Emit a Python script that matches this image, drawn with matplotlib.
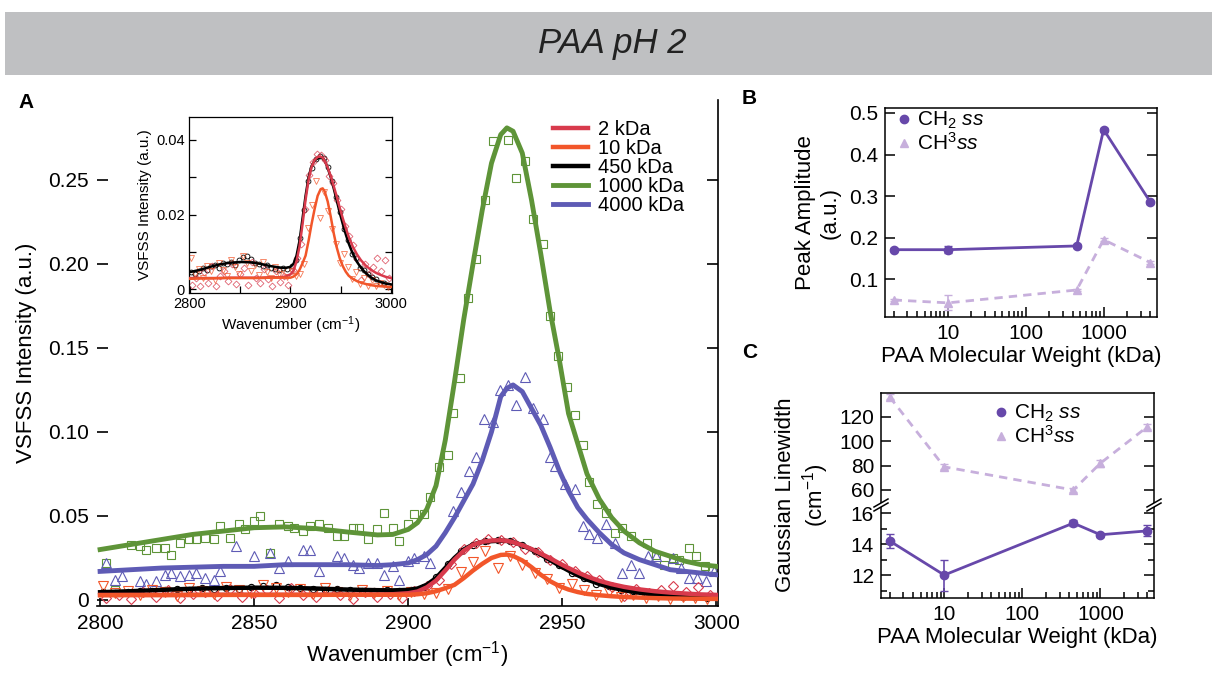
"""PAA pH 2: SFG spectra (A) with inset, peak amplitude (B) and Gaussian linewidth (C) vs molecular weight."""
import matplotlib; matplotlib.use("Agg"); import matplotlib.pyplot as plt
from matplotlib.lines import Line2D
from matplotlib.patches import Rectangle, Polygon
from matplotlib.ticker import FuncFormatter, MultipleLocator

plt.rcParams['font.family'] = ['Liberation Sans', 'DejaVu Sans']
plt.rcParams['mathtext.fontset'] = 'custom'
plt.rcParams['mathtext.rm'] = 'Liberation Sans'
plt.rcParams['mathtext.it'] = 'Liberation Sans:italic'

# ---- panel A: fit curves ----
fit_x = [2800, 2810, 2820, 2830, 2840, 2850, 2860, 2870, 2880, 2890, 2895, 2900, 2903, 2906, 2909, 2912, 2915,
         2918, 2921, 2924, 2927, 2930, 2932, 2934, 2937, 2940, 2943, 2946, 2949, 2952, 2955, 2958, 2962, 2966,
         2970, 2975, 2980, 2985, 2990, 2995, 3000]
fit_1000 = [.030, .033, .036, .039, .041, .043, .0435, .0425, .0405, .0387, .039, .042, .046, .054, .068, .095, .130,
            .167, .200, .232, .260, .277, .281, .279, .266, .238, .206, .172, .143, .111, .093, .075, .060, .049,
            .041, .034, .029, .026, .023, .021, .020]
fit_4000 = [.017, .018, .019, .0195, .020, .020, .021, .021, .021, .0205, .021, .022, .024, .027, .032, .040, .049,
            .059, .069, .083, .100, .121, .126, .128, .124, .114, .104, .091, .077, .065, .055, .048, .040, .033,
            .028, .024, .021, .018, .017, .016, .015]
fit_450 = [.0046, .0052, .0060, .0067, .0071, .0073, .0072, .0068, .0062, .0058, .0057, .0060, .0068, .0090, .0130,
           .0190, .0250, .0300, .0330, .0345, .0350, .0353, .0351, .0345, .0325, .0300, .0270, .0238, .0205, .0175,
           .0147, .0122, .0095, .0074, .0058, .0043, .0032, .0024, .0019, .0015, .0013]
fit_2 = [.0030, .0030, .0030, .0030, .0031, .0031, .0031, .0031, .0032, .0032, .0034, .0040, .0050, .0075, .0115,
         .0175, .0240, .0293, .0328, .0346, .0354, .0355, .0352, .0344, .0326, .0303, .0276, .0248, .0218, .0190,
         .0164, .0140, .0114, .0094, .0078, .0063, .0052, .0044, .0038, .0033, .0030]
fit_10 = [.0028, .0029, .0029, .0030, .0030, .0030, .0030, .0030, .0031, .0031, .0031, .0031, .0034, .0040, .0052,
          .0070, .0090, .0130, .0175, .0215, .0250, .0268, .0270, .0262, .0235, .0195, .0150, .0112, .0083, .0062,
          .0047, .0036, .0028, .0022, .0018, .0014, .0011, .0009, .0008, .0007, .0006]

# ---- panel A: measured points ----
x_1000 = [2802, 2805, 2810, 2813, 2815, 2818, 2821, 2823, 2826, 2829, 2831, 2834, 2837, 2839, 2842, 2845, 2847, 2850,
          2852, 2855, 2858, 2861, 2863, 2866, 2868, 2871, 2874, 2877, 2879, 2882, 2884, 2887, 2890, 2892, 2895, 2897,
          2900, 2902, 2905, 2907, 2910, 2913, 2914.5, 2916.7, 2919.3, 2922, 2924.8, 2927.4, 2932.3, 2935, 2938,
          2940.4, 2943.6, 2945.9, 2948.5, 2951.4, 2954, 2956.6, 2958.5, 2961.4, 2964.3, 2967, 2969.5, 2972.3,
          2977.3, 2980.5, 2983, 2985.8, 2988, 2991, 2993.5, 2996.4, 2998.7]
y_1000 = [.022, .006, .033, .032, .030, .031, .031, .027, .034, .036, .036, .037, .036, .044, .037, .045, .042, .047,
          .050, .028, .045, .044, .043, .041, .044, .045, .043, .038, .038, .043, .043, .036, .042, .052, .043, .035,
          .045, .051, .051, .061, .079, .086, .111, .132, .180, .203, .238, .273, .274, .251, .261,
          .227, .212, .169, .145, .127, .110, .092, .070, .057, .052, .040, .043, .038,
          .034, .027, .021, .025, .024, .031, .026, .020, .019]
x_4000 = [2802, 2805, 2807, 2813, 2815, 2818, 2821, 2823, 2826, 2829, 2831, 2834, 2837, 2839, 2844, 2850, 2855, 2858,
          2861, 2866, 2868, 2871, 2877, 2879, 2882, 2884, 2887, 2890, 2892, 2895, 2897, 2900, 2902, 2905, 2907,
          2914.5, 2917, 2919.7, 2922, 2924.5, 2927.4, 2929.7, 2932.3, 2935, 2938, 2940.4, 2943.6, 2945.9, 2947.5,
          2950.7, 2954, 2956.6, 2958.8, 2961.4, 2964.3, 2967, 2969.5, 2972.3, 2974.9, 2977.7, 2980.5, 2985.8,
          2988.4, 2991, 2993.8, 2996.5, 2999.3]
y_4000 = [.022, .012, .014, .011, .0095, .011, .015, .016, .014, .015, .016, .013, .012, .017, .032, .026, .028, .019,
          .023, .030, .030, .017, .026, .025, .021, .019, .022, .022, .015, .020, .012, .023, .025, .026, .022,
          .053, .064, .077, .085, .108, .106, .125, .128, .116, .133, .114, .108, .085, .080,
          .069, .066, .044, .039, .037, .045, .034, .016, .021, .016, .026, .026, .025,
          .019, .013, .013, .011, .017]
x_450 = [2801, 2805, 2809, 2813, 2817, 2821, 2825, 2829, 2833, 2837, 2841, 2845, 2849, 2853, 2857, 2861, 2865, 2869,
         2873, 2877, 2881, 2885, 2889, 2893, 2897, 2901, 2905, 2909, 2913, 2917, 2921, 2925, 2929, 2933, 2937, 2941,
         2945, 2949, 2953, 2957, 2961, 2965, 2969, 2973, 2977, 2981, 2985, 2989, 2993, 2997]
y_450 = [.0045, .0040, .0050, .0056, .0052, .0061, .0066, .0058, .0070, .0068, .0074, .0066, .0078, .0086, .0090,
         .0080, .0071, .0067, .0062, .0066, .0058, .0055, .0052, .0058, .0054, .0061, .0078, .0138, .0212, .0290,
         .0325, .0348, .0356, .0352, .0328, .0291, .0246, .0208, .0160, .0132, .0094, .0085, .0058, .0052, .0040,
         .0034, .0028, .0016, .0017, .0012]
x_2 = [2802, 2806, 2810, 2814, 2818, 2822, 2826, 2830, 2834, 2838, 2842, 2846, 2850, 2854, 2858, 2862, 2866, 2870,
       2874, 2878, 2882, 2886, 2890, 2894, 2898, 2902, 2906, 2910, 2914, 2918, 2922, 2926, 2930, 2934, 2938, 2942,
       2946, 2950, 2954, 2958, 2962, 2966, 2970, 2974, 2978, 2982, 2986, 2990, 2994, 2998]
y_2 = [.0012, .0030, .0008, .0045, .0016, .0062, .0010, .0035, .0050, .0022, .0068, .0015, .0040, .0058, .0012,
       .0072, .0030, .0018, .0055, .0028, .0008, .0048, .0020, .0036, .0012, .0052, .0085, .0120, .0215, .0305,
       .0340, .0362, .0358, .0345, .0302, .0285, .0240, .0215, .0170, .0142, .0118, .0080, .0025, .0068, .0040,
       .0060, .0083, .0050, .0077, .0030]
x_10 = [2801, 2805, 2809, 2813, 2817, 2821, 2825, 2829, 2833, 2837, 2841, 2845, 2849, 2853, 2857, 2861, 2865, 2869,
        2873, 2877, 2881, 2885, 2889, 2893, 2897, 2901, 2905, 2909, 2913, 2917, 2921, 2925, 2929, 2933, 2937, 2941,
        2945, 2949, 2953, 2957, 2961, 2965, 2969, 2973, 2977, 2981, 2985, 2989, 2993, 2997]
y_10 = [.0085, .0040, .0055, .0030, .0062, .0048, .0025, .0070, .0052, .0035, .0078, .0060, .0042, .0088, .0070,
        .0050, .0065, .0038, .0072, .0045, .0030, .0060, .0040, .0052, .0032, .0048, .0035, .0040, .0068, .0165,
        .0225, .0290, .0190, .0260, .0210, .0160, .0122, .0070, .0095, .0060, .0028, .0045, .0015, .0030, .0010,
        .0024, .0008, .0018, .0012, .0006]

# ---- panels B and C ----
mw = [2, 10, 450, 1000, 4000]
amp_ch2 = [0.171, 0.171, 0.180, 0.460, 0.285]
amp_ch2_err = [0.004, 0.008, 0.004, 0.005, 0.004]
amp_ch3 = [0.050, 0.043, 0.074, 0.195, 0.140]
amp_ch3_err = [0.003, 0.018, 0.003, 0.004, 0.003]
lw_ch2 = [14.2, 12.0, 15.35, 14.6, 14.85]
lw_ch2_err = [0.45, 1.0, 0.2, 0.12, 0.35]
lw_ch3 = [136.5, 79, 60, 82, 112]
lw_ch3_err = [2, 2, 2, 3, 2]

C2, C10, C450, C1000, C4000 = '#D83A4C', '#F2562A', 'black', '#5E9438', '#5E5BB5'
P_DARK, P_LIGHT = '#6748AA', '#C7AFDC'
W, H = 1212, 681
def fr(x0, y0, x1, y1): return [x0/W, 1-y1/H, (x1-x0)/W, (y1-y0)/H]

fig = plt.figure(figsize=(W/100, H/100), dpi=100)
fig.patches.append(Rectangle((5/W, 1-75/H), 1, 63/H, transform=fig.transFigure, fc='#BFC0C2', ec='none', zorder=0))
fig.text(612/W, 1-44/H, 'PAA pH 2', style='italic', fontsize=25, ha='center', va='center', color='#222222',
         family=['Liberation Sans Narrow', 'Liberation Sans'])
for lab, x, y in [('A', 18, 102), ('B', 742, 98), ('C', 742, 352)]:
    fig.text(x/W, 1-y/H, lab, fontsize=15, fontweight='bold', va='center')

# ---- A ----
ax = fig.add_axes(fr(97, 100, 718, 606))
mk = dict(ls='none', mfc='none', mew=0.8, zorder=2)
ax.plot(x_1000, y_1000, 's', mec=C1000, ms=6, **mk)
ax.plot(x_4000, y_4000, '^', mec=C4000, ms=6.5, **mk)
ax.plot(x_450, y_450, 'o', mec=C450, ms=4.5, **mk)
ax.plot(x_2, y_2, 'D', mec=C2, ms=5, **mk)
ax.plot(x_10, y_10, 'v', mec=C10, ms=6.5, **mk)
l450, = ax.plot(fit_x, fit_450, color=C450, lw=3.2, zorder=3)
l2, = ax.plot(fit_x, fit_2, color=C2, lw=3.2, zorder=3)
l10, = ax.plot(fit_x, fit_10, color=C10, lw=3.2, zorder=3)
l4000, = ax.plot(fit_x, fit_4000, color=C4000, lw=3.5, zorder=3)
l1000, = ax.plot(fit_x, fit_1000, color=C1000, lw=3.5, zorder=3)
ax.set_xlim(2799, 3000.5); ax.set_ylim(-0.0036, 0.2976)
ax.set_xticks([2800, 2850, 2900, 2950, 3000])
ax.set_yticks([0, 0.05, 0.10, 0.15, 0.20, 0.25]); ax.set_yticklabels(['0', '0.05', '0.10', '0.15', '0.20', '0.25'])
ax.spines['top'].set_visible(False); ax.spines['left'].set_visible(False)
for s in ['right', 'bottom']: ax.spines[s].set_linewidth(1.2)
ax.tick_params(axis='y', direction='in', left=True, right=True, length=8, width=1.2, labelsize=15, pad=6)
ax.tick_params(axis='x', direction='in', length=6, width=1.2, labelsize=15, pad=6)
ax.set_xlabel('Wavenumber (cm$^{-1}$)', fontsize=16, labelpad=4)
ax.set_ylabel('VSFSS Intensity (a.u.)', fontsize=16, labelpad=8)
ax.legend([l2, l10, l450, l1000, l4000], ['2 kDa', '10 kDa', '450 kDa', '1000 kDa', '4000 kDa'],
          loc='upper left', bbox_to_anchor=(553/W, 1-120/H), bbox_transform=fig.transFigure, frameon=False,
          fontsize=14.5, handlelength=1.75, handletextpad=0.5, labelspacing=0.0, borderpad=0, borderaxespad=0)

# inset
ai = fig.add_axes(fr(189, 117, 392, 293))
mi = dict(ls='none', mfc='none', mew=0.6, zorder=2)
ai.plot(x_450, y_450, 'o', mec=C450, ms=3.5, **mi)
ai.plot(x_2, y_2, 'D', mec=C2, ms=3.5, alpha=0.8, **mi)
ai.plot(x_10, y_10, 'v', mec=C10, ms=4, alpha=0.8, **mi)
ai.plot(fit_x, fit_450, color=C450, lw=1.8, zorder=3)
ai.plot(fit_x, fit_2, color=C2, lw=1.8, zorder=3)
ai.plot(fit_x, fit_10, color=C10, lw=1.8, zorder=3)
ai.set_xlim(2799, 3001); ai.set_ylim(-0.001, 0.0461)
ai.set_xticks([2800, 2900, 3000]); ai.xaxis.set_minor_locator(MultipleLocator(50))
ai.set_yticks([0, 0.02, 0.04]); ai.set_yticklabels(['0', '0.02', '0.04'])
ai.yaxis.set_minor_locator(MultipleLocator(0.01))
ai.tick_params(which='both', direction='in', right=True, length=5, width=0.9, labelsize=10.5, pad=3)
for s in ai.spines.values(): s.set_linewidth(0.9)
ai.set_xlabel('Wavenumber (cm$^{-1}$)', fontsize=11, labelpad=2)
ai.set_ylabel('VSFSS Intensity (a.u.)', fontsize=11, labelpad=3)

# ---- B ----
logfmt = FuncFormatter(lambda v, p: f'{v:g}')
axB = fig.add_axes(fr(885, 108, 1157, 317))
axB.errorbar(mw, amp_ch3, yerr=amp_ch3_err, fmt='^', ls=(0, (3, 2.2)), color=P_LIGHT, ms=6, lw=2,
             capsize=3, elinewidth=1.2)
axB.errorbar(mw, amp_ch2, yerr=amp_ch2_err, fmt='o-', color=P_DARK, ms=6, lw=2, capsize=3, elinewidth=1.2)
axB.set_xscale('log'); axB.set_xlim(1.55, 4850); axB.set_ylim(0.009, 0.512)
axB.set_yticks([0.1, 0.2, 0.3, 0.4, 0.5])
axB.xaxis.set_major_formatter(logfmt)
axB.tick_params(which='both', direction='in', right=True, width=1.1, labelsize=15, pad=5)
axB.tick_params(which='major', length=7); axB.tick_params(which='minor', length=4)
for s in axB.spines.values(): s.set_linewidth(1.1)
axB.set_xlabel('PAA Molecular Weight (kDa)', fontsize=16, labelpad=2)
axB.set_ylabel('Peak Amplitude\n(a.u.)', fontsize=16, labelpad=6)
hCH2 = Line2D([], [], ls='none', marker='o', color=P_DARK, ms=6)
hCH3 = Line2D([], [], ls='none', marker='^', color=P_LIGHT, ms=6)
labs = ['CH$_2$ $\\mathit{ss}$', 'CH$^3$$\\mathit{ss}$']
axB.legend([hCH2, hCH3], labs, loc='upper left', bbox_to_anchor=(898/W, 1-110/H), bbox_transform=fig.transFigure,
           frameon=False, fontsize=15, handlelength=0.6, handletextpad=0.3, labelspacing=0.05, borderpad=0,
           borderaxespad=0)

# ---- C (broken y axis) ----
axU = fig.add_axes(fr(881, 393, 1154, 507))
axL = fig.add_axes(fr(881, 507, 1154, 598))
axU.errorbar(mw, lw_ch3, yerr=lw_ch3_err, fmt='^', ls=(0, (3, 2.2)), color=P_LIGHT, ms=6, lw=2,
             capsize=3, elinewidth=1.2)
axL.errorbar(mw, lw_ch2, yerr=lw_ch2_err, fmt='o-', color=P_DARK, ms=6, lw=2, capsize=3, elinewidth=1.2)
for a in (axU, axL):
    a.set_xscale('log'); a.set_xlim(1.55, 4850)
    a.tick_params(which='both', direction='in', right=True, width=1.1, labelsize=15, pad=5)
    a.tick_params(which='major', length=7); a.tick_params(which='minor', length=4)
    for s in a.spines.values(): s.set_linewidth(1.1)
axU.set_ylim(46, 139.7); axU.set_yticks([60, 80, 100, 120])
axU.spines['bottom'].set_visible(False)
axU.tick_params(axis='x', which='both', bottom=False, labelbottom=False)
axL.set_ylim(10.52, 16.39); axL.set_yticks([12, 14, 16]); axL.yaxis.set_minor_locator(MultipleLocator(1))
axL.spines['top'].set_visible(False)
axL.xaxis.set_major_formatter(logfmt)
axL.set_xlabel('PAA Molecular Weight (kDa)', fontsize=16, labelpad=2)
fig.text(803/W, 1-495/H, 'Gaussian Linewidth\n(cm$^{-1}$)', rotation=90, ha='center', va='center',
         fontsize=16, multialignment='center')
axU.legend([hCH2, hCH3], labs, loc='upper left', bbox_to_anchor=(995/W, 1-403/H), bbox_transform=fig.transFigure,
           frameon=False, fontsize=15, handlelength=0.6, handletextpad=0.3, labelspacing=0.05, borderpad=0,
           borderaxespad=0)
# break marks on both vertical spines
for xb in (881, 1154):
    gap = Polygon([((xb-7)/W, 1-(511)/H), ((xb+7)/W, 1-(503)/H), ((xb+7)/W, 1-(499)/H), ((xb-7)/W, 1-(507)/H)],
                  closed=True, transform=fig.transFigure, fc='white', ec='none', zorder=10)
    fig.patches.append(gap)
    for dy in (4, 0):
        fig.lines.append(Line2D([(xb-7)/W, (xb+7)/W], [1-(507+dy)/H, 1-(499+dy)/H], transform=fig.transFigure,
                                color='black', lw=1.1, zorder=11))

fig.savefig('out.png', dpi=100)
